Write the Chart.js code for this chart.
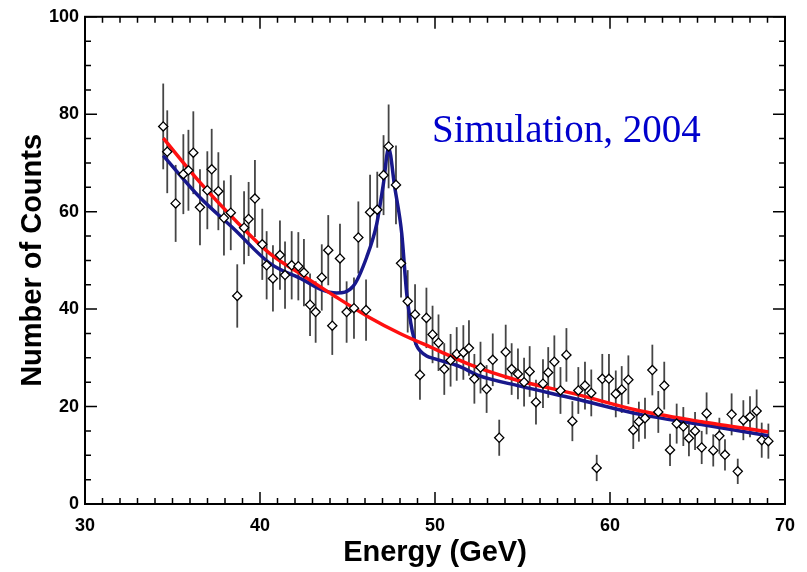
<!DOCTYPE html>
<html>
<head>
<meta charset="utf-8">
<script src="https://cdn.jsdelivr.net/npm/chart.js@4.4.1/dist/chart.umd.min.js"></script>
<style>
  body { margin: 0; background: #fff; }
  #wrap { width: 807px; height: 572px; }
</style>
</head>
<body>
<div id="wrap"><canvas id="grafico"></canvas></div>
<script>
// dados
const energia = [34.47, 34.70, 35.18, 35.62, 35.91, 36.19, 36.57, 36.99, 37.24, 37.62,
  37.94, 38.33, 38.70, 39.09, 39.35, 39.71, 40.13, 40.38, 40.74, 41.14,
  41.43, 41.81, 42.19, 42.51, 42.86, 43.18, 43.53, 43.90, 44.13, 44.57,
  44.95, 45.37, 45.62, 46.06, 46.29, 46.70, 47.06, 47.35, 47.77, 48.06,
  48.44, 48.86, 49.14, 49.51, 49.86, 50.20, 50.53, 50.89, 51.24, 51.62,
  51.94, 52.25, 52.60, 52.95, 53.30, 53.67, 54.04, 54.38, 54.74, 55.09,
  55.41, 55.77, 56.17, 56.47, 56.82, 57.17, 57.51, 57.85, 58.19, 58.57,
  58.93, 59.24, 59.56, 59.94, 60.33, 60.67, 61.05, 61.33, 61.65, 62.00,
  62.42, 62.76, 63.10, 63.43, 63.81, 64.19, 64.51, 64.86, 65.24, 65.52,
  65.90, 66.25, 66.57, 66.95, 67.30, 67.62, 68.00, 68.38, 68.67, 69.05];
const contagens = [77.5, 72.3, 61.7, 67.7, 68.5, 72.1, 60.9, 64.4, 68.7, 64.2,
  58.7, 59.8, 42.7, 56.7, 58.5, 62.7, 53.3, 49.0, 46.3, 51.1,
  47.0, 49.0, 48.8, 47.5, 40.9, 39.4, 46.5, 52.1, 36.6, 50.4,
  39.4, 40.2, 54.7, 39.8, 59.9, 60.4, 67.5, 73.4, 65.5, 49.4,
  41.6, 38.9, 26.5, 38.2, 34.8, 33.1, 27.7, 29.5, 30.8, 31.1,
  32.0, 25.7, 28.0, 23.6, 29.6, 13.6, 31.2, 27.7, 26.7, 25.0,
  27.2, 20.9, 24.7, 27.0, 29.2, 23.3, 30.6, 17.0, 23.3, 24.3,
  22.8, 7.4, 25.7, 25.7, 22.6, 23.5, 25.5, 15.2, 16.9, 17.6,
  27.5, 18.9, 24.3, 11.1, 16.5, 15.9, 13.5, 15.0, 11.6, 18.6,
  11.0, 14.0, 10.1, 18.4, 6.7, 17.2, 17.9, 19.1, 13.1, 12.9];
const erros = [8.8, 8.5, 7.9, 8.2, 8.3, 8.5, 7.8, 8.0, 8.3, 8.0,
  7.7, 7.7, 6.5, 7.5, 7.6, 7.9, 7.3, 7.0, 6.8, 7.1,
  6.9, 7.0, 7.0, 6.9, 6.4, 6.3, 6.8, 7.2, 6.0, 7.1,
  6.3, 6.3, 7.4, 6.3, 7.7, 7.8, 8.2, 8.6, 8.1, 7.0,
  6.4, 6.2, 5.1, 6.2, 5.9, 5.8, 5.3, 5.4, 5.5, 5.6,
  5.7, 5.1, 5.3, 4.9, 5.4, 3.7, 5.6, 5.3, 5.2, 5.0,
  5.2, 4.6, 5.0, 5.2, 5.4, 4.8, 5.5, 4.1, 4.8, 4.9,
  4.8, 2.7, 5.1, 5.1, 4.8, 4.8, 5.0, 3.9, 4.1, 4.2,
  5.2, 4.3, 4.9, 3.3, 4.1, 4.0, 3.7, 3.9, 3.4, 4.3,
  3.3, 3.7, 3.2, 4.3, 2.6, 4.1, 4.2, 4.4, 3.6, 3.6];

// curva vermelha (fundo) e azul (fundo + pico)
const fundoE = [34.47, 36.57, 38.57, 40.57, 42.5, 44.3, 46.2, 48.0, 50.0, 52.0, 54.6, 58.0, 61.5, 65.24, 69.05];
const fundoN = [75.1, 66.0, 58.3, 51.4, 46.8, 42.6, 38.4, 35.0, 31.8, 28.6, 25.5, 22.6, 19.3, 16.9, 14.8];
const picoE = [34.47, 36.57, 38.5, 40.57, 42.47, 43.5, 44.38, 45.33, 46.1, 46.67, 47.05, 47.35, 47.7, 48.1, 48.38,
  48.7, 48.95, 49.14, 49.52, 50.0, 51.43, 52.47, 54.86, 58.0, 61.71, 65.24, 69.05];
const picoN = [71.5, 62.9, 56.5, 49.4, 46.0, 44.0, 43.3, 44.7, 50.7, 57.5, 65.7, 73.0, 65.0, 55.5, 43.3,
  35.5, 32.5, 31.5, 30.4, 29.8, 28.2, 26.4, 24.2, 21.6, 18.4, 16.3, 14.0];

const xTicks = [30, 40, 50, 60, 70];
const yTicks = [0, 20, 40, 60, 80, 100];
const texto = 'Simulation, 2004';

const moldura = {
  id: 'moldura',
  beforeDatasetsDraw(chart) {
    const { ctx, scales: { x, y } } = chart;
    ctx.save();
    ctx.strokeStyle = '#454545';
    ctx.lineWidth = 1.8;
    energia.forEach((e, i) => {
      const px = x.getPixelForValue(e);
      ctx.beginPath();
      ctx.moveTo(px, y.getPixelForValue(contagens[i] - erros[i]));
      ctx.lineTo(px, y.getPixelForValue(contagens[i] + erros[i]));
      ctx.stroke();
    });
    ctx.restore();
  },
  afterDraw(chart) {
    const { ctx, chartArea: a, scales: { x, y } } = chart;
    ctx.save();
    ctx.strokeStyle = '#000';
    ctx.lineWidth = 1.5;
    ctx.beginPath();
    for (let v = 30; v <= 70; v += 1) {
      const px = x.getPixelForValue(v);
      const len = v % 10 === 0 ? 12 : 6;
      ctx.moveTo(px, a.bottom); ctx.lineTo(px, a.bottom - len);
      ctx.moveTo(px, a.top); ctx.lineTo(px, a.top + len);
    }
    for (let v = 0; v <= 100; v += 5) {
      const py = y.getPixelForValue(v);
      const len = v % 20 === 0 ? 12 : 6;
      ctx.moveTo(a.left, py); ctx.lineTo(a.left + len, py);
      ctx.moveTo(a.right, py); ctx.lineTo(a.right - len, py);
    }
    ctx.stroke();
    ctx.lineWidth = 2;
    ctx.strokeRect(a.left, a.top, a.right - a.left, a.bottom - a.top);

    ctx.fillStyle = '#0000cc';
    ctx.font = '39px "Liberation Serif"';
    ctx.textBaseline = 'alphabetic';
    ctx.fillText(texto, 432, 142);
    ctx.restore();
  }
};

const ctx = document.getElementById('grafico').getContext('2d');
new Chart(ctx, {
  type: 'scatter',
  data: {
    datasets: [
      {
        label: 'Dados',
        data: energia.map((e, i) => ({ x: e, y: contagens[i] })),
        pointStyle: 'rectRot',
        pointRadius: 4.6,
        pointBorderWidth: 1.3,
        pointBorderColor: '#000',
        pointBackgroundColor: '#fff',
        order: 0
      },
      {
        label: 'Fundo',
        type: 'line',
        data: fundoE.map((e, i) => ({ x: e, y: fundoN[i] })),
        borderColor: '#ff1010',
        borderWidth: 3.5,
        pointRadius: 0,
        cubicInterpolationMode: 'monotone',
        fill: false,
        order: 1
      },
      {
        label: 'Pico',
        type: 'line',
        data: picoE.map((e, i) => ({ x: e, y: picoN[i] })),
        borderColor: '#18188c',
        borderWidth: 3.5,
        pointRadius: 0,
        cubicInterpolationMode: 'monotone',
        fill: false,
        order: 2
      }
    ]
  },
  options: {
    responsive: true,
    maintainAspectRatio: false,
    animation: false,
    devicePixelRatio: 1,
    layout: { padding: { top: 11, right: 22, left: 0, bottom: 0 } },
    plugins: { legend: { display: false }, tooltip: { enabled: false } },
    scales: {
      x: {
        type: 'linear',
        min: 30, max: 70,
        afterBuildTicks: s => { s.ticks = xTicks.map(v => ({ value: v })); },
        afterFit: s => { s.height = 68; },
        grid: { display: false, drawTicks: false },
        border: { display: false },
        ticks: { color: '#000', padding: 11, maxRotation: 0,
          font: { family: 'Liberation Sans', weight: 'bold', size: 18 } },
        title: { display: true, text: 'Energy (GeV)', color: '#000',
          padding: { top: 0, bottom: 2 },
          font: { family: 'Liberation Sans', weight: 'bold', size: 29, lineHeight: 1.2 } }
      },
      y: {
        type: 'linear',
        min: 0, max: 100,
        afterBuildTicks: s => { s.ticks = yTicks.map(v => ({ value: v })); },
        afterFit: s => { s.width = 85; },
        grid: { display: false, drawTicks: false },
        border: { display: false },
        ticks: { color: '#000', padding: 6,
          font: { family: 'Liberation Sans', weight: 'bold', size: 18 } },
        title: { display: true, text: 'Number of Counts', color: '#000',
          padding: { top: 16, bottom: 0 },
          font: { family: 'Liberation Sans', weight: 'bold', size: 29, lineHeight: 1.2 } }
      }
    }
  },
  plugins: [moldura]
});
</script>
</body>
</html>
